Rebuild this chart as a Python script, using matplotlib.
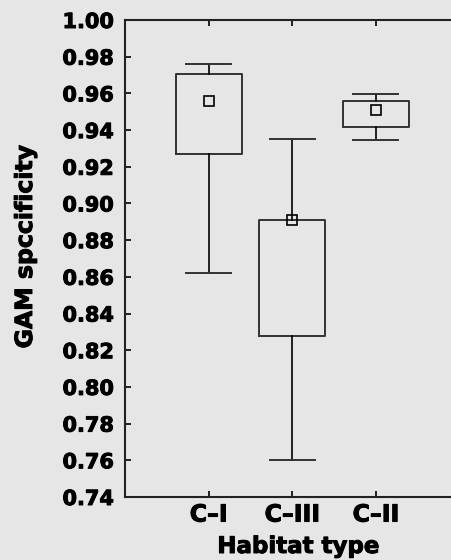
"""Box chart of GAM specificity by habitat type."""

import matplotlib
matplotlib.use("Agg")
import matplotlib.pyplot as plt
import matplotlib.patheffects as pe
import numpy as np

habitats = ["C–I", "C–III", "C–II"]
means = [0.956, 0.891, 0.951]
box_low = [0.927, 0.828, 0.9415]
box_high = [0.9705, 0.891, 0.956]
whisk_low = [0.862, 0.760, 0.9345]
whisk_high = [0.976, 0.935, 0.9595]

yticks = np.round(np.arange(0.74, 1.001, 0.02), 2)

BG = "#e6e6e6"
heavy = [pe.withStroke(linewidth=0.7, foreground="black")]

fig = plt.figure(figsize=(4.52, 5.6), dpi=100, facecolor=BG)
ax = fig.add_axes([125 / 452, 63 / 560, 334.5 / 452, 477 / 560], facecolor=BG)

stats = []
for name, m, lo, hi, wl, wh in zip(habitats, means, box_low, box_high,
                                   whisk_low, whisk_high):
    stats.append(dict(label=name, mean=m, med=m, q1=lo, q3=hi,
                      whislo=wl, whishi=wh, fliers=[]))

pos = np.arange(1, len(habitats) + 1)
ax.bxp(stats, positions=pos, widths=0.79, capwidths=0.54,
       showmeans=True, showfliers=False, patch_artist=False,
       boxprops=dict(color="#333333", linewidth=1.4),
       whiskerprops=dict(color="black", linewidth=1.2),
       capprops=dict(color="#333333", linewidth=1.4),
       medianprops=dict(visible=False),
       meanprops=dict(marker="s", markersize=7, markerfacecolor="none",
                      markeredgecolor="black", markeredgewidth=1.2))

ax.set_xlim(0, 4)
ax.set_ylim(0.74, 1.00)
ax.set_xticks(pos)
ax.set_xticklabels(habitats, fontsize=17, fontweight="bold")
ax.set_yticks(yticks)
ax.set_yticklabels([f"{v:.2f}" for v in yticks], fontsize=15, fontweight="bold")
ax.tick_params(axis="both", direction="in", length=4, width=1.2, color="black",
               top=True, right=True)
ax.tick_params(axis="y", pad=8)
ax.tick_params(axis="x", pad=4)
for lab in ax.get_xticklabels() + ax.get_yticklabels():
    lab.set_path_effects(heavy)

for sp in ax.spines.values():
    sp.set_linewidth(1.5)
    sp.set_color("#222222")

ax.set_xlabel("Habitat type", fontsize=16.5, fontweight="bold",
              path_effects=heavy)
ax.xaxis.set_label_coords(173 / 334.5, -38 / 477)
ax.set_ylabel("GAM spccificity", fontsize=17, fontweight="bold",
              path_effects=heavy)
ax.yaxis.set_label_coords(-88 / 334.5, 0.525)

fig.savefig("out.png", dpi=100, facecolor=BG)
